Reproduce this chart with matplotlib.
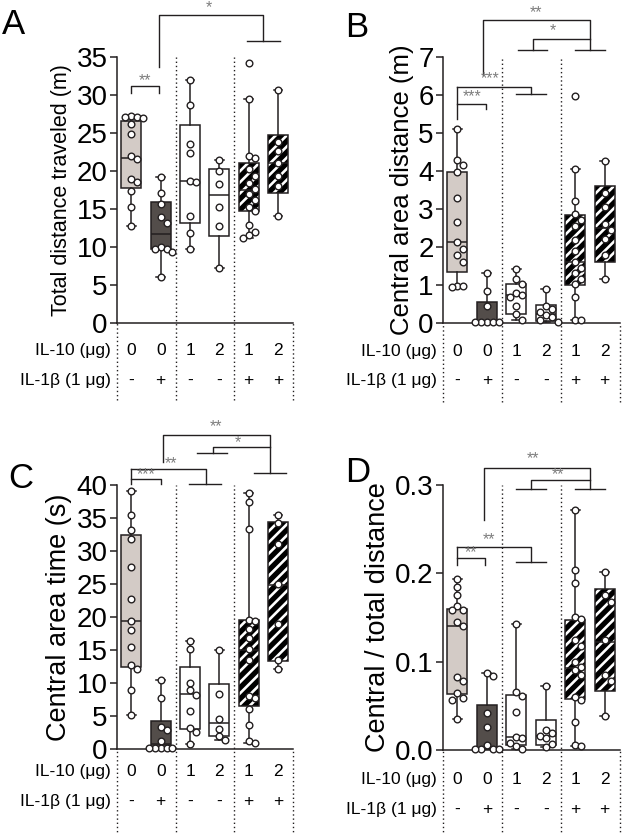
import matplotlib
matplotlib.use('Agg')
import matplotlib.pyplot as plt
from matplotlib.patches import PathPatch

plt.rcParams['font.family'] = ['Liberation Sans', 'DejaVu Sans']
plt.rcParams['hatch.linewidth'] = 1.9
plt.rcParams['axes.linewidth'] = 1.1

INK = '#231f20'
STAR = '#7d7d7d'

# groups along the x axis
il10_labels = ['0', '0', '1', '2', '1', '2']
il1b_labels = ['-', '+', '-', '-', '+', '+']
box_fill = ['#d3cbc6', '#534d4a', 'white', 'white', 'black', 'black']
hatched = [False, False, False, False, True, True]

# A - total distance traveled (m); boxes are (q1, median, q3, min, max)
dist_box = [(17.8, 21.7, 26.6, 12.7, 27.2), (9.8, 11.7, 15.9, 6.1, 19.2),
            (13.1, 18.7, 26.0, 9.8, 31.9), (11.5, 16.8, 20.3, 7.3, 21.5),
            (14.7, 17.5, 21.1, 11.2, 29.5), (17.1, 21.0, 24.7, 14.1, 30.6)]
dist_pts = [[27.2, 27.1, 27.1, 27.0, 26.2, 24.8, 21.9, 21.6, 19.0, 18.5, 17.3, 15.3, 12.7],
            [19.2, 17.1, 15.6, 13.9, 13.2, 10.0, 9.8, 9.8, 9.3, 6.1],
            [31.9, 28.7, 23.5, 22.4, 18.7, 18.6, 14.1, 11.8, 9.8],
            [21.5, 20.0, 18.3, 15.3, 12.8, 7.3],
            [34.2, 29.5, 22.0, 21.7, 20.2, 19.3, 18.4, 17.6, 17.0, 16.2, 15.3, 14.7, 12.9, 12.0, 11.6, 11.2],
            [30.6, 23.8, 22.6, 21.0, 19.4, 18.0, 14.1]]

# B - central area distance (m)
cdist_box = [(1.34, 2.12, 3.97, 0.95, 5.09), (0.0, 0.03, 0.56, 0.0, 1.32),
             (0.25, 0.73, 1.03, 0.08, 1.43), (0.05, 0.25, 0.47, 0.03, 0.89),
             (1.0, 1.6, 2.83, 0.08, 4.06), (1.62, 2.5, 3.6, 1.15, 4.26)]
cdist_pts = [[5.09, 4.29, 4.15, 3.97, 3.28, 2.67, 2.12, 1.96, 1.79, 1.62, 0.98, 0.97, 0.96],
             [1.32, 0.85, 0.46, 0.04, 0.03, 0.03, 0.02, 0.02],
             [1.43, 1.17, 1.03, 0.80, 0.73, 0.70, 0.44, 0.24, 0.08],
             [0.89, 0.45, 0.38, 0.30, 0.22, 0.15, 0.08, 0.04],
             [5.98, 4.06, 3.22, 2.88, 2.72, 2.55, 2.18, 1.9, 1.6, 1.45, 1.31, 1.15, 1.02, 0.70, 0.08, 0.07],
             [4.26, 3.42, 3.05, 2.6, 2.45, 2.2, 1.8, 1.15]]

# C - central area time (s)
ctime_box = [(12.4, 19.4, 32.4, 5.2, 39.1), (0.0, 0.8, 4.3, 0.0, 10.5),
             (3.0, 8.3, 12.4, 0.8, 16.4), (1.9, 3.9, 9.9, 1.3, 15.0),
             (6.5, 15.0, 19.5, 0.9, 38.8), (13.3, 24.8, 34.4, 12.2, 35.4)]
ctime_pts = [[39.1, 35.5, 33.2, 31.9, 27.6, 22.7, 19.4, 18.1, 15.5, 12.7, 12.1, 9.0, 5.2],
             [10.5, 7.8, 3.4, 2.9, 1.2, 0.1, 0.1, 0.1, 0.1, 0.1],
             [16.4, 15.2, 10.0, 8.9, 8.2, 5.7, 3.2, 2.6, 0.8],
             [15.0, 8.3, 4.6, 3.0, 1.9, 1.3],
             [38.8, 37.5, 33.4, 19.6, 19.4, 18.2, 16.8, 15.2, 13.5, 8.0, 7.7, 6.1, 3.7, 1.2, 0.9],
             [35.4, 34.3, 31.1, 25.0, 18.9, 13.5, 12.2]]

# D - central / total distance
ratio_box = [(0.063, 0.140, 0.160, 0.035, 0.194), (0.0, 0.002, 0.051, 0.0, 0.087),
             (0.006, 0.014, 0.062, 0.001, 0.143), (0.006, 0.016, 0.034, 0.003, 0.072),
             (0.058, 0.093, 0.147, 0.004, 0.272), (0.067, 0.122, 0.182, 0.038, 0.202)]
ratio_pts = [[0.194, 0.184, 0.175, 0.163, 0.159, 0.158, 0.145, 0.140, 0.083, 0.078, 0.064, 0.059, 0.057, 0.035],
             [0.087, 0.084, 0.042, 0.026, 0.006, 0.001, 0.001, 0.001, 0.001],
             [0.143, 0.066, 0.061, 0.043, 0.015, 0.013, 0.008, 0.004, 0.001],
             [0.072, 0.022, 0.019, 0.016, 0.013, 0.007, 0.003],
             [0.272, 0.204, 0.189, 0.150, 0.148, 0.124, 0.118, 0.100, 0.094, 0.090, 0.085, 0.060, 0.057, 0.031, 0.006, 0.004],
             [0.202, 0.175, 0.168, 0.125, 0.085, 0.078, 0.038]]


def swarm(vals, span, step=0.2, tol=0.026):
    """Spread close values sideways so the dots do not overlap."""
    order = sorted(range(len(vals)), key=lambda i: -vals[i])
    placed = []
    offs = [0.0] * len(vals)
    cands = [0.0]
    for k in range(1, 5):
        cands += [k * step, -k * step]
    for i in order:
        v = vals[i]
        for c in cands:
            if all(abs(v - pv) >= tol * span or abs(c - po) >= step * 0.95 for pv, po in placed):
                break
        placed.append((v, c))
        offs[i] = c
    return offs


def draw_panel(ax, boxes, pts, ylim, ticks, ticklabels, ylabel, ysize,
               rows_y, dot_bottom, lines, stars):
    stats = [dict(q1=b[0], med=b[1], q3=b[2], whislo=b[3], whishi=b[4], fliers=[])
             for b in boxes]
    art = ax.bxp(stats, positions=range(1, 7), widths=0.68, capwidths=0.3,
                 patch_artist=True, showfliers=False,
                 boxprops=dict(edgecolor=INK, linewidth=1.1),
                 medianprops=dict(color=INK, linewidth=1.1),
                 whiskerprops=dict(color=INK, linewidth=1.1),
                 capprops=dict(color=INK, linewidth=1.1))
    for box, fc, hat in zip(art['boxes'], box_fill, hatched):
        box.set_facecolor(fc)
        if hat:
            # white stripes on black, then a black outline on top
            box.set_edgecolor('white')
            box.set_hatch('///')
            box.set_linewidth(0)
            ax.add_patch(PathPatch(box.get_path(), fill=False, edgecolor=INK,
                                   linewidth=1.1, zorder=2.5))

    span = ylim[1] - ylim[0]
    for i, vals in enumerate(pts):
        offs = swarm(vals, span)
        ax.plot([i + 1 + o for o in offs], vals, 'o', ms=4.8, mfc='white',
                mec=INK, mew=1.0, zorder=4, clip_on=False)

    ax.set_xlim(0.5, 6.52)
    ax.set_ylim(*ylim)
    ax.set_yticks(ticks)
    ax.set_yticklabels(ticklabels)
    ax.set_xticks([])
    ax.spines['top'].set_visible(False)
    ax.spines['right'].set_visible(False)
    for s in ['left', 'bottom']:
        ax.spines[s].set_color(INK)
    ax.tick_params(axis='y', length=5, width=1.1, pad=1.5, labelsize=20, color=INK)
    ax.set_ylabel(ylabel, fontsize=ysize, labelpad=3)

    tr = ax.get_xaxis_transform()
    for x, top in [(0.5, 0), (2.51, 1), (4.51, 1), (6.52, 0)]:
        ax.plot([x, x], [dot_bottom, top], transform=tr, color=INK, lw=1.0,
                ls=(0, (1, 2)), clip_on=False)

    ax.text(-0.035, rows_y[0], 'IL-10 (μg)', transform=ax.transAxes,
            ha='right', va='center', fontsize=12.5)
    ax.text(-0.035, rows_y[1], 'IL-1β (1 μg)', transform=ax.transAxes,
            ha='right', va='center', fontsize=12.5)
    for i in range(6):
        ax.text(i + 1, rows_y[0], il10_labels[i], transform=tr, ha='center',
                va='center', fontsize=12.5)
        ax.text(i + 1, rows_y[1], il1b_labels[i], transform=tr, ha='center',
                va='center', fontsize=12.5)

    for xs, ys in lines:
        ax.plot(xs, ys, color=INK, lw=1.0, clip_on=False)
    for x, y, s in stars:
        ax.text(x, y, s, ha='center', va='center', fontsize=11.5, color=STAR,
                clip_on=False)


fig = plt.figure(figsize=(6.25, 8.35), dpi=100)
axA = fig.add_axes([0.1867, 0.613, 0.2826, 0.319])
axB = fig.add_axes([0.7083, 0.613, 0.2837, 0.319])
axC = fig.add_axes([0.1867, 0.103, 0.2826, 0.316])
axD = fig.add_axes([0.7083, 0.102, 0.2837, 0.317])

draw_panel(axA, dist_box, dist_pts, (0, 35), range(0, 36, 5),
           [str(t) for t in range(0, 36, 5)], 'Total distance traveled (m)', 15.5,
           (-0.102, -0.214), -0.29,
           [([1, 1, 1.95, 1.95], [30.3, 31.1, 31.1, 30.3]),
            ([1.95, 1.95, 5.5, 5.5], [33.7, 40.5, 40.5, 37.1]),
            ([4.95, 6.05], [37.1, 37.1])],
           [(1.45, 31.9, '**'), (3.65, 41.4, '*')])

draw_panel(axB, cdist_box, cdist_pts, (0, 7), range(0, 8),
           [str(t) for t in range(0, 8)], 'Central area distance (m)', 18.5,
           (-0.108, -0.214), -0.296,
           [([1, 1], [5.36, 6.21]),
            ([1, 1.96, 1.96], [5.76, 5.76, 5.63]),
            ([1, 3.5, 3.5], [6.21, 6.21, 6.02]),
            ([3, 4], [6.02, 6.02]),
            ([1.88, 1.88, 5.5, 5.5], [6.53, 7.96, 7.96, 7.19]),
            ([5, 6], [7.19, 7.19]),
            ([3.55, 3.55, 5.5], [7.19, 7.48, 7.48]),
            ([3.05, 4.05], [7.19, 7.19])],
           [(1.5, 5.94, '***'), (2.1, 6.42, '***'), (3.67, 8.16, '**'), (4.23, 7.68, '*')])

draw_panel(axC, ctime_box, ctime_pts, (0, 40), range(0, 41, 5),
           [str(t) for t in range(0, 41, 5)], 'Central area time (s)', 19.5,
           (-0.086, -0.2), -0.33,
           [([1, 1], [40.1, 42.5]),
            ([1, 2, 2], [41.0, 41.0, 40.1]),
            ([1, 3.53, 3.53], [42.5, 42.5, 40.1]),
            ([2.97, 4.05], [40.1, 40.1]),
            ([2.09, 2.09, 5.73, 5.73], [43.5, 47.6, 47.6, 41.9]),
            ([5.19, 6.27], [41.9, 41.9]),
            ([3.77, 3.77, 5.73], [44.8, 45.8, 45.8]),
            ([3.23, 4.27], [44.8, 44.8])],
           [(1.5, 41.6, '***'), (2.35, 43.3, '**'), (3.88, 48.8, '**'), (4.62, 46.5, '*')])

draw_panel(axD, ratio_box, ratio_pts, (0, 0.3), [0, 0.1, 0.2, 0.3],
           ['0.0', '0.1', '0.2', '0.3'], 'Central / total distance', 19.5,
           (-0.113, -0.226), -0.33,
           [([1, 1], [0.209, 0.230]),
            ([1, 1.95, 1.95], [0.217, 0.217, 0.209]),
            ([1, 3.5, 3.5], [0.230, 0.230, 0.213]),
            ([3, 4], [0.213, 0.213]),
            ([1.9, 1.9, 5.5, 5.5], [0.261, 0.319, 0.319, 0.296]),
            ([5, 6], [0.296, 0.296]),
            ([3.5, 3.5, 5.5], [0.296, 0.306, 0.306]),
            ([3, 4], [0.296, 0.296])],
           [(1.45, 0.223, '**'), (2.07, 0.238, '**'), (3.55, 0.330, '**'), (4.4, 0.312, '**')])

for x, y, s in [(2, 8, 'A'), (345, 11, 'B'), (8, 462, 'C'), (345, 456, 'D')]:
    fig.text(x / 625, 1 - y / 835, s, fontsize=25, va='top', ha='left')

fig.savefig('out.png', dpi=100)
